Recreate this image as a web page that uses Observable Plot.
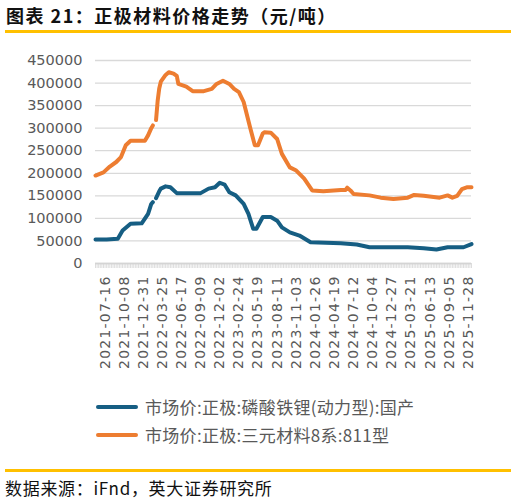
<!DOCTYPE html>
<html><head><meta charset="utf-8">
<script src="https://cdn.jsdelivr.net/npm/d3@7"></script>
<script src="https://cdn.jsdelivr.net/npm/@observablehq/plot@0.6"></script>
<style>
body{margin:0;background:#fff;}
#wrap{position:relative;width:517px;height:503px;overflow:hidden;font-family:"Noto Sans CJK SC",sans-serif;background:#fff;}
#title{position:absolute;left:6px;top:5px;font-size:18px;line-height:20px;font-weight:bold;color:#111;white-space:nowrap;letter-spacing:1.5px;}
.rule{position:absolute;left:5px;width:506px;height:3px;background:#FFC000;}
#chart{position:absolute;left:0;top:40px;}
.leg{position:absolute;left:96px;height:20px;display:flex;align-items:center;white-space:nowrap;}
.sw{width:42px;height:4px;border-radius:2px;margin-right:7px;}
.lt{font-size:17px;line-height:20px;color:#595959;letter-spacing:0.3px;}
#source{position:absolute;left:5px;top:478px;font-size:17px;line-height:19px;color:#111;white-space:nowrap;letter-spacing:0.7px;}
g[aria-label="x-axis tick label"] text{letter-spacing:1.2px;}
</style></head>
<body><div id="wrap">
<div id="title">图表 21：正极材料价格走势（元/吨）</div>
<div class="rule" style="top:30px"></div>
<div id="chart"></div>
<div id="legend"></div>
<div class="rule" style="top:469px"></div>
<div id="source">数据来源：iFnd，英大证券研究所</div>
</div>
<script>
// Series names and colours
const seriesNames = ["市场价:正极:磷酸铁锂(动力型):国产", "市场价:正极:三元材料8系:811型"];
const seriesColors = ["#165E83", "#ED7D31"];

// 磷酸铁锂 (LFP) price, 元/吨
const lfpDates = ["2021-06-04","2021-07-23","2021-09-10","2021-10-01","2021-11-05","2021-12-24","2022-01-21","2022-02-04","2022-02-11","2022-02-18","2022-02-25","2022-03-11","2022-03-18","2022-04-08","2022-04-29","2022-05-27","2022-09-09","2022-10-14","2022-11-11","2022-12-02","2022-12-23","2023-01-13","2023-02-10","2023-03-17","2023-04-07","2023-04-28","2023-05-12","2023-06-09","2023-07-14","2023-08-11","2023-09-01","2023-10-06","2023-11-17","2024-01-05","2024-05-17","2024-07-26","2024-09-20","2025-03-07","2025-05-16","2025-07-11","2025-08-29","2025-11-07","2025-12-12"];
const lfpValues = [53000,53000,55000,73000,88000,89000,110000,132000,136000,null,145000,160000,166000,171000,169000,156000,156000,166000,169000,179000,175000,158000,151000,132000,110000,77000,77000,103000,103000,95000,80000,69000,62000,47000,45000,42000,36000,36000,34000,31000,36000,36000,43000];

// 三元材料 811 (NCM) price, 元/吨
const ncmDates = ["2021-06-04","2021-07-09","2021-08-06","2021-09-03","2021-09-24","2021-10-15","2021-11-05","2022-01-07","2022-01-21","2022-02-04","2022-02-11","2022-02-18","2022-02-25","2022-03-04","2022-03-11","2022-03-18","2022-04-08","2022-04-22","2022-05-13","2022-05-27","2022-06-03","2022-07-08","2022-08-05","2022-09-23","2022-10-28","2022-11-18","2022-12-16","2023-01-13","2023-02-03","2023-02-24","2023-03-17","2023-04-14","2023-05-05","2023-05-19","2023-06-09","2023-06-16","2023-07-14","2023-08-11","2023-09-01","2023-10-06","2023-11-03","2023-12-08","2024-01-12","2024-03-01","2024-05-17","2024-06-07","2024-06-14","2024-06-28","2024-07-12","2024-09-20","2024-11-08","2025-01-03","2025-03-07","2025-04-04","2025-05-16","2025-07-25","2025-08-29","2025-09-19","2025-10-10","2025-10-31","2025-11-21","2025-12-12"];
const ncmValues = [195000,202000,215000,225000,236000,262000,272000,272000,284000,300000,306000,null,318000,360000,388000,403000,418000,424000,421000,416000,398000,392000,382000,382000,387000,398000,405000,398000,387000,380000,358000,302000,262000,262000,288000,291000,290000,276000,243000,213000,206000,188000,162000,160000,163000,163000,168000,162000,154000,151000,146000,143000,146000,152000,150000,146000,151000,146000,150000,165000,169000,169000];

// Axis ticks
const yTicks = [0,50000,100000,150000,200000,250000,300000,350000,400000,450000];
const xTickLabels = ["2021-07-16","2021-10-08","2021-12-31","2022-03-25","2022-06-17","2022-09-09","2022-12-02","2023-02-24","2023-05-19","2023-08-11","2023-11-03","2024-01-26","2024-04-19","2024-07-12","2024-10-04","2024-12-27","2025-03-21","2025-06-13","2025-09-05","2025-11-28"];
const xDomain = ["2021-06-04","2025-12-12"];

const parse = d3.utcParse("%Y-%m-%d");
const lfp = lfpDates.map((d,i)=>({date:parse(d), value:lfpValues[i]}));
const ncm = ncmDates.map((d,i)=>({date:parse(d), value:ncmValues[i]}));
const dom = xDomain.map(parse);
const minorTicks = d3.utcFriday.every(1).range(dom[0], d3.utcDay.offset(dom[1],1));

const chart = Plot.plot({
  width:517, height:340,
  marginTop:20, marginBottom:117, marginLeft:95, marginRight:46,
  style:{fontFamily:"'DejaVu Sans', sans-serif", fontSize:"14px", color:"#595959", background:"transparent", overflow:"visible"},
  x:{type:"utc", domain:dom},
  y:{domain:[0,450000]},
  marks:[
    Plot.gridY(yTicks, {stroke:"#d9d9d9", strokeOpacity:1, strokeWidth:1.3}),
    Plot.axisY(yTicks, {tickSize:0, tickPadding:13, tickFormat:d3.format("d"), fontSize:14.5, label:null, fill:"#595959"}),
    Plot.axisX(minorTicks, {tickSize:5, tickFormat:()=>"", stroke:"#d4d4d4", strokeWidth:0.8, label:null}),
    Plot.ruleY([0], {stroke:"#d4d4d4", strokeWidth:1.3}),
    Plot.axisX(xTickLabels.map(parse), {tickSize:0, tickRotate:-90, tickPadding:12, tickFormat:d3.utcFormat("%Y-%m-%d"), fontSize:14, label:null, fill:"#595959"}),
    Plot.line(ncm, {x:"date", y:"value", stroke:seriesColors[1], strokeWidth:4, strokeLinecap:"round", strokeLinejoin:"round"}),
    Plot.line(lfp, {x:"date", y:"value", stroke:seriesColors[0], strokeWidth:4, strokeLinecap:"round", strokeLinejoin:"round"})
  ]
});
document.getElementById("chart").appendChild(chart);

// Legend
const leg = document.getElementById("legend");
seriesNames.forEach((n,i)=>{
  const row = document.createElement("div");
  row.className = "leg";
  row.style.top = (397 + i*28) + "px";
  row.innerHTML = `<div class="sw" style="background:${seriesColors[i]}"></div><div class="lt">${n}</div>`;
  leg.appendChild(row);
});
</script>
</body></html>
